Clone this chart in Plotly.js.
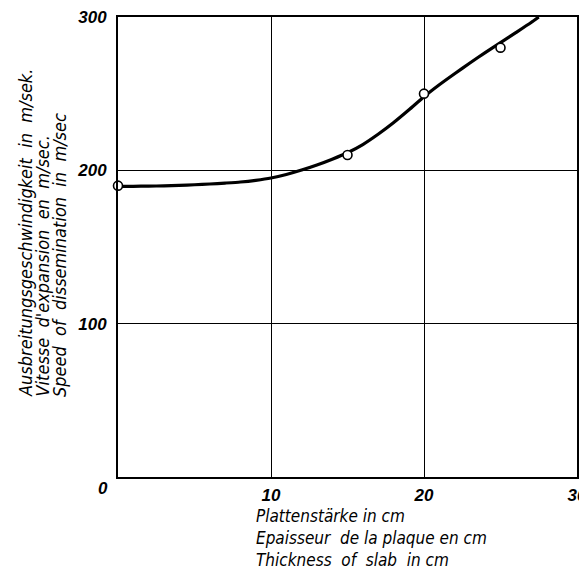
<!DOCTYPE html>
<html>
<head>
<meta charset="utf-8">
<script src="https://cdn.plot.ly/plotly-3.0.1.min.js"></script>
<style>html,body{margin:0;padding:0;background:#fff;}#chart{width:579px;height:571px;}</style>
</head>
<body>
<div id="chart"></div>
<script>
// Fitted curve
const curveX = [0, 1, 2, 3, 4, 5, 6, 7, 8, 9, 10, 11, 12, 13, 14, 15, 16, 17, 18, 19, 20, 21, 22, 23, 24, 25, 26, 27, 27.5];
const curveY = [189.5, 189.6, 189.7, 189.9, 190.2, 190.6, 191.1, 191.7, 192.4, 193.5, 195, 197.3, 200.2, 203.5, 207.3, 211.5, 216.8, 223.5, 231, 239.3, 248, 255.8, 263, 270, 276.8, 283.3, 289.8, 296.4, 300];
// Measured points
const pointX = [0, 15, 20, 25];
const pointY = [190, 210, 250, 280];
// Tick labels
const xTickVals = [10, 20, 30];
const xTickText = ["10", "20", "30"];
const yTickVals = [100, 200, 300];
const yTickText = ["100", "200", "300"];
const originLabel = "0";
// Titles
const xTitleLines = ["Plattenstärke in cm", "Epaisseur  de la plaque en cm", "Thickness  of  slab  in cm"];
const yTitleLines = ["Ausbreitungsgeschwindigkeit  in  m/sek.", "Vitesse  d'expansion  en  m/sec.", "Speed  of  dissemination  in  m/sec"];

const FONT = "DejaVu Sans Condensed, DejaVu Sans, sans-serif";
const TICKFONT = "Liberation Sans, Arial, sans-serif";
const W = 579, H = 571, L = 118, R = 2, T = 17, B = 94;
const pw = W - L - R, ph = H - T - B;
function px2paperX(px) { return (px - L) / pw; }
function px2paperY(py) { return (H - B - py) / ph; }

const annotations = [];
// origin label
annotations.push({xref: 'paper', yref: 'paper', x: px2paperX(109), y: px2paperY(488),
  xanchor: 'right', yanchor: 'middle', text: originLabel, showarrow: false, borderpad: 0,
  font: {family: TICKFONT, size: 17, color: '#000', weight: 'bold', style: 'italic'}});
// x title (three left-aligned lines)
annotations.push({xref: 'paper', yref: 'paper',
  x: px2paperX(255), y: px2paperY(504.5), xanchor: 'left', yanchor: 'top',
  text: xTitleLines.join('<br>'), showarrow: false, align: 'left', borderpad: 0,
  font: {family: FONT, size: 17, color: '#000', style: 'italic'}});
// y title lines
const yCols = [25, 42, 59];
yTitleLines.forEach((t, i) => annotations.push({xref: 'paper', yref: 'paper',
  x: px2paperX(yCols[i]), y: px2paperY(398), xanchor: 'center', yanchor: 'bottom', text: t,
  textangle: -90, showarrow: false, borderpad: 0,
  font: {family: FONT, size: 18, color: '#000', style: 'italic'}}));

const data = [
  {x: curveX, y: curveY, type: 'scatter', mode: 'lines', line: {color: '#000', width: 3.2, shape: 'spline', smoothing: 0.6}, hoverinfo: 'skip'},
  {x: pointX, y: pointY, type: 'scatter', mode: 'markers', cliponaxis: false,
   marker: {symbol: 'circle', size: 9, color: '#fff', line: {color: '#000', width: 1.6}}}
];

const axisCommon = {showline: true, linecolor: '#000', linewidth: 2, mirror: true,
  showgrid: true, gridcolor: '#000', gridwidth: 1, zeroline: false, ticks: '',
  tickmode: 'array', fixedrange: true,
  tickfont: {family: TICKFONT, size: 17, color: '#000', weight: 'bold', style: 'italic'}};

const layout = {
  width: W, height: H, margin: {l: L, r: R, t: T, b: B, pad: 0},
  paper_bgcolor: '#fff', plot_bgcolor: '#fff', showlegend: false,
  xaxis: Object.assign({}, axisCommon, {range: [0, 30], tickvals: xTickVals, ticktext: xTickText, ticklabelstandoff: 2, ticklabeloverflow: 'allow'}),
  yaxis: Object.assign({}, axisCommon, {range: [0, 300], tickvals: yTickVals, ticktext: yTickText, ticklabelstandoff: 6}),
  annotations: annotations
};

Plotly.newPlot('chart', data, layout, {displayModeBar: false, staticPlot: true});
</script>
</body>
</html>
